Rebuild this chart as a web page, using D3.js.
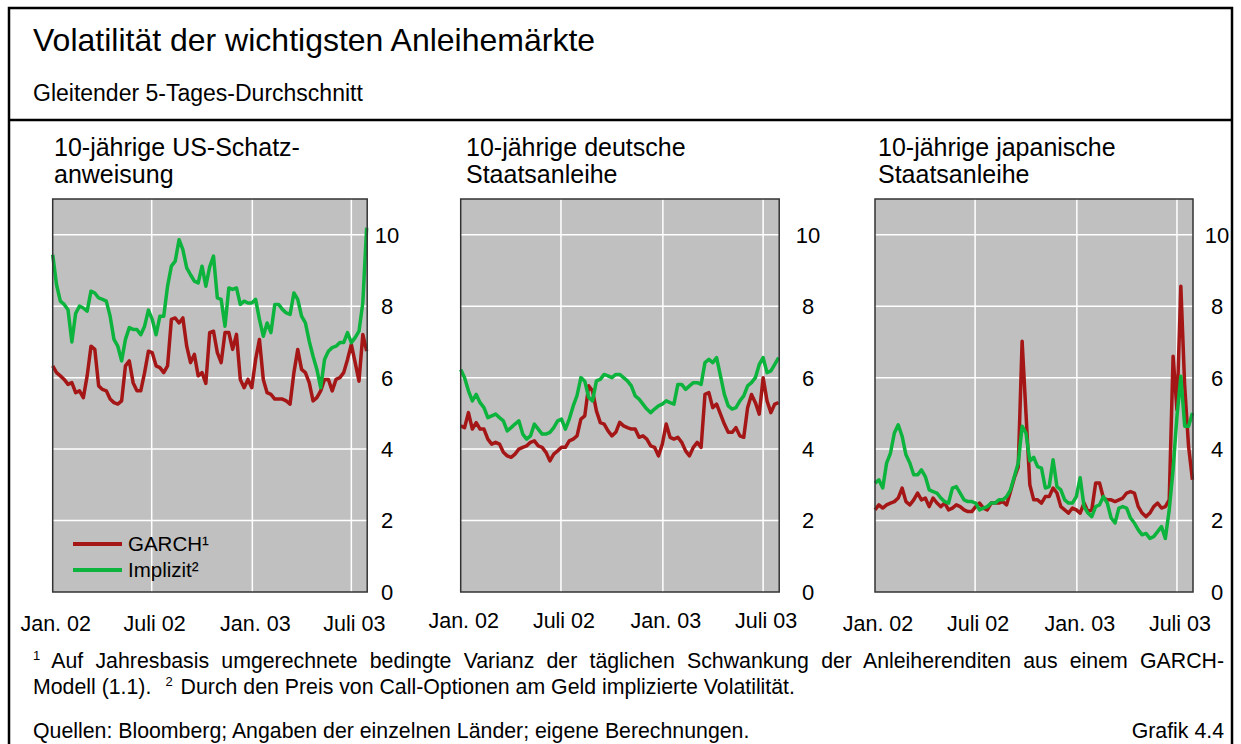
<!DOCTYPE html>
<html>
<head>
<meta charset="utf-8">
<script src="https://cdn.jsdelivr.net/npm/d3@7"></script>
<style>
  body { margin: 0; background: #fff; font-family: "Liberation Sans", Arial, sans-serif; }
  #wrap { position: relative; width: 1241px; height: 744px; overflow: hidden; }
  svg { position: absolute; left: 0; top: 0; }
  .note { position: absolute; left: 33px; width: 1191px; font-size: 21.3px; line-height: 26px; color: #000; white-space: nowrap; }
  .sup { font-size: 13px; position: relative; top: -8px; }
</style>
</head>
<body>
<div id="wrap">
  <svg id="chart" width="1241" height="744"></svg>
</div>
<script>
// weekly points, Jan 2002 - end of July 2003 (5-day moving average)
const start = new Date(2002, 0, 1);
const weeks = d3.range(83).map(i => d3.timeDay.offset(start, 7 * i));

const usGarch = [6.33,6.14,6.05,5.95,5.81,5.86,5.58,5.63,5.44,6.05,6.88,6.79,5.77,5.67,5.63,5.4,5.3,5.26,5.35,6.33,
  6.47,5.86,5.63,5.63,6.14,6.74,6.7,6.33,6.28,6.14,6.33,7.63,7.67,7.53,7.67,6.88,6.42,6.65,6.05,6.14,
  5.84,7.26,7.3,6.7,6.42,7.26,7.26,6.79,7.21,5.95,5.72,5.95,5.72,6.51,7.07,5.95,5.58,5.53,5.4,5.4,
  5.4,5.35,5.26,6.14,6.79,6.23,6.14,5.86,5.35,5.44,5.63,5.95,5.95,5.63,5.95,6.0,6.14,6.51,6.93,6.42,
  5.9,7.21,6.74];
const usImpl = [9.44,8.6,8.14,8.05,7.9,7.0,7.8,8.0,7.95,7.86,8.42,8.37,8.23,8.19,8.14,7.72,7.07,6.88,6.47,7.07,
  7.4,7.35,7.35,7.2,7.44,7.89,7.63,7.2,7.72,7.72,8.56,9.12,9.26,9.86,9.58,9.07,8.88,8.7,8.65,9.12,
  8.56,9.1,9.4,8.23,8.19,7.44,8.51,8.47,8.51,8.05,8.14,8.09,8.09,8.19,7.63,7.16,7.53,7.26,8.05,8.05,
  7.91,7.81,7.77,8.37,8.19,7.72,7.53,7.02,6.6,6.23,5.72,6.51,6.74,6.84,6.88,6.98,6.98,7.26,6.98,7.12,
  7.3,8.1,10.2];

const deGarch = [4.65,4.6,5.02,4.56,4.74,4.56,4.56,4.28,4.14,4.19,4.14,3.91,3.81,3.77,3.86,4.0,4.05,4.09,4.19,4.23,
  4.09,4.05,3.91,3.67,3.86,3.95,4.05,4.05,4.23,4.28,4.37,4.84,4.93,5.77,5.63,5.07,4.74,4.7,4.51,4.37,
  4.47,4.75,4.65,4.6,4.56,4.56,4.33,4.37,4.28,4.09,4.05,3.81,4.14,4.7,4.33,4.28,4.33,4.19,3.95,3.81,
  4.05,4.19,4.05,5.53,5.58,5.16,5.26,4.98,4.7,4.47,4.47,4.6,4.37,4.33,5.16,5.53,5.3,4.98,6.0,5.35,
  5.02,5.26,5.3];
const deImpl = [6.23,6.0,5.63,5.35,5.53,5.3,5.16,4.88,4.93,4.98,4.88,4.79,4.51,4.6,4.7,4.79,4.42,4.28,4.37,4.7,
  4.56,4.42,4.42,4.47,4.6,4.79,4.84,4.56,4.84,5.2,5.5,6.0,5.9,5.45,5.35,5.91,5.95,6.09,6.05,6.0,
  6.09,6.09,6.0,5.91,5.77,5.49,5.4,5.26,5.12,5.02,5.12,5.21,5.26,5.35,5.3,5.26,5.81,5.81,5.67,5.77,
  5.86,5.86,5.81,6.42,6.51,6.42,6.56,6.05,5.53,5.21,5.12,5.16,5.35,5.49,5.77,5.86,6.0,6.37,6.56,6.14,
  6.19,6.37,6.56];

const jpGarch = [2.3,2.44,2.35,2.44,2.49,2.53,2.63,2.91,2.53,2.44,2.58,2.77,2.58,2.63,2.39,2.63,2.49,2.39,2.49,2.3,
  2.35,2.44,2.39,2.3,2.25,2.25,2.39,2.49,2.35,2.3,2.49,2.49,2.49,2.53,2.44,2.81,3.2,3.5,7.02,5.0,
  3.0,2.58,2.58,2.49,2.67,2.67,2.91,2.77,2.39,2.3,2.21,2.35,2.3,2.21,2.49,2.25,2.3,3.05,3.05,2.63,
  2.58,2.58,2.53,2.58,2.63,2.77,2.81,2.77,2.39,2.21,2.11,2.21,2.39,2.49,2.35,2.39,2.58,6.6,5.1,8.56,
  5.76,4.07,3.14];
const jpImpl = [3.05,3.14,2.91,3.61,3.89,4.45,4.68,4.36,3.84,3.61,3.28,3.28,3.42,3.23,2.86,2.81,2.77,2.63,2.53,2.49,
  2.91,2.95,2.77,2.58,2.53,2.53,2.49,2.3,2.35,2.39,2.49,2.49,2.58,2.58,2.67,2.86,3.23,3.61,4.64,4.45,
  3.67,3.77,3.51,3.47,2.91,2.95,3.7,2.95,2.86,2.58,2.49,2.49,2.67,3.2,2.39,2.21,2.11,2.39,2.44,2.67,
  2.49,2.07,1.93,2.35,2.39,2.35,2.07,1.93,1.74,1.6,1.64,1.5,1.55,1.69,1.83,1.5,2.3,3.42,4.92,6.04,
  4.64,4.64,5.01];

const panelTitles = [
  ["10-jährige US-Schatz-", "anweisung"],
  ["10-jährige deutsche", "Staatsanleihe"],
  ["10-jährige japanische", "Staatsanleihe"]
];
const panelSeries = [[usGarch, usImpl], [deGarch, deImpl], [jpGarch, jpImpl]];
const seriesNames = ["GARCH¹", "Implizit²"];
const yTicks = [0, 2, 4, 6, 8, 10];
const xTicks = [new Date(2002, 0, 1), new Date(2002, 6, 1), new Date(2003, 0, 1), new Date(2003, 6, 1)];
const xTickLabels = ["Jan. 02", "Juli 02", "Jan. 03", "Juli 03"];

const colors = ["#a51616", "#0cb33c"];
const font = '"Liberation Sans", Arial, sans-serif';

const svg = d3.select("#chart");

// outer frame + divider
svg.append("rect").attr("x", 9).attr("y", 8).attr("width", 1223).attr("height", 800)
  .attr("fill", "none").attr("stroke", "#000").attr("stroke-width", 2.5);
svg.append("line").attr("x1", 9).attr("x2", 1232).attr("y1", 120).attr("y2", 120)
  .attr("stroke", "#000").attr("stroke-width", 2.5);

svg.append("text").attr("x", 33).attr("y", 51).attr("font-family", font).attr("font-size", 32)
  .text("Volatilität der wichtigsten Anleihemärkte");
svg.append("text").attr("x", 33).attr("y", 101).attr("font-family", font).attr("font-size", 23)
  .text("Gleitender 5-Tages-Durchschnitt");

// panel geometry
const panels = [
  { left: 52.7, width: 314.5, titleX: 54, yLabX: 387, xLabY: 631 },
  { left: 460.7, width: 318.5, titleX: 466, yLabX: 808, xLabY: 628 },
  { left: 875, width: 318, titleX: 878, yLabX: 1217, xLabY: 631 }
];
const plotTop = 199, plotBottom = 592;

panels.forEach((p, k) => {
  const x = d3.scaleTime()
    .domain([start, new Date(2003, 6, 30)])
    .range([p.left, p.left + p.width]);
  const y = d3.scaleLinear().domain([0, 11]).range([plotBottom, plotTop]);

  const g = svg.append("g");

  // title
  g.append("text").attr("font-family", font).attr("font-size", 25)
    .selectAll("tspan").data(panelTitles[k]).join("tspan")
    .attr("x", p.titleX).attr("y", (d, i) => 156 + i * 27).text(d => d);

  g.append("rect").attr("x", p.left).attr("y", plotTop).attr("width", p.width).attr("height", plotBottom - plotTop)
    .attr("fill", "#c0c0c0");

  // grid
  g.selectAll(".hg").data(yTicks.filter(d => d > 0)).join("line")
    .attr("x1", p.left).attr("x2", p.left + p.width)
    .attr("y1", d => y(d)).attr("y2", d => y(d))
    .attr("stroke", "#fff").attr("stroke-width", 1.5);
  g.selectAll(".vg").data(xTicks.slice(1)).join("line")
    .attr("x1", d => x(d)).attr("x2", d => x(d))
    .attr("y1", plotTop).attr("y2", plotBottom)
    .attr("stroke", "#fff").attr("stroke-width", 1.5);

  // lines
  const line = d3.line().x((d, i) => x(weeks[i])).y(d => y(d));
  panelSeries[k].forEach((s, j) => {
    g.append("path").datum(s).attr("d", line)
      .attr("fill", "none").attr("stroke", colors[j]).attr("stroke-width", 3.5)
      .attr("stroke-linejoin", "round");
  });

  g.append("rect").attr("x", p.left).attr("y", plotTop).attr("width", p.width).attr("height", plotBottom - plotTop)
    .attr("fill", "none").attr("stroke", "#333").attr("stroke-width", 1.5);

  // y labels (right side)
  g.selectAll(".yl").data(yTicks).join("text")
    .attr("x", p.yLabX).attr("y", d => y(d)).attr("dy", "0.36em")
    .attr("text-anchor", "middle").attr("font-family", font).attr("font-size", 22)
    .text(d => d);

  // x labels
  g.selectAll(".xl").data(xTicks).join("text")
    .attr("x", d => x(d) + 3).attr("y", p.xLabY)
    .attr("text-anchor", "middle").attr("font-family", font).attr("font-size", 21.5)
    .text((d, i) => xTickLabels[i]);
});

// legend in first panel
const leg = svg.append("g");
seriesNames.forEach((name, j) => {
  const ly = 544 + j * 26;
  leg.append("line").attr("x1", 73).attr("x2", 122).attr("y1", ly).attr("y2", ly)
    .attr("stroke", colors[j]).attr("stroke-width", 4);
  leg.append("text").attr("x", 128).attr("y", ly + 7).attr("font-family", font).attr("font-size", 20.5)
    .text(name);
});

// footnotes and source
const wrap = d3.select("#wrap");
const fn1 = wrap.append("div").attr("class", "note")
  .style("top", "648px").style("text-align", "justify").style("text-align-last", "justify").style("white-space", "normal");
fn1.append("span").attr("class", "sup").text("1");
fn1.append("span").text(" Auf Jahresbasis umgerechnete bedingte Varianz der täglichen Schwankung der Anleiherenditen aus einem GARCH-");

const fn2 = wrap.append("div").attr("class", "note").style("top", "674px");
fn2.append("span").text("Modell (1.1).");
fn2.append("span").attr("class", "sup").style("margin-left", "14px").style("margin-right", "8px").text("2");
fn2.append("span").text("Durch den Preis von Call-Optionen am Geld implizierte Volatilität.");

const src = wrap.append("div").attr("class", "note").style("top", "718px");
src.append("span").text("Quellen: Bloomberg; Angaben der einzelnen Länder; eigene Berechnungen.");
src.append("span").style("float", "right").text("Grafik 4.4");
</script>
</body>
</html>
